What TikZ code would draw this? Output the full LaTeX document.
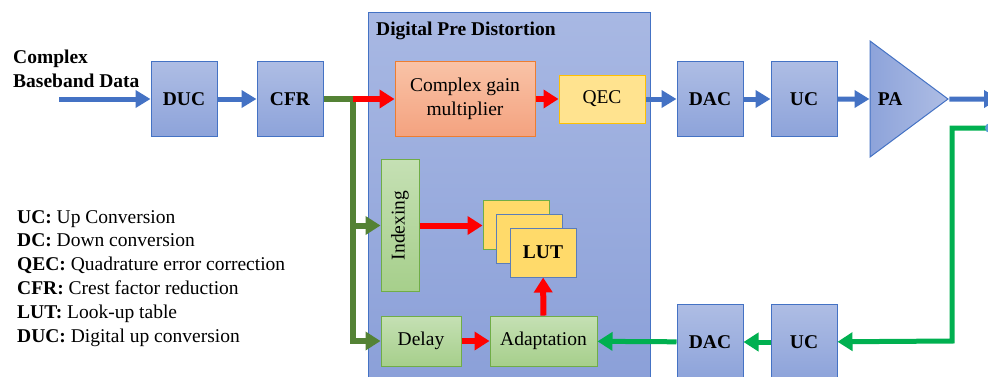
\documentclass[tikz,border=0pt]{standalone}
\usepackage{fontspec}
\setmainfont{Liberation Serif}
\usepackage{tikz}
\usetikzlibrary{shapes.geometric,arrows.meta,positioning,calc}
\definecolor{dpdborder}{HTML}{4472C4}
\definecolor{dpdtop}{HTML}{A8B8E3}
\definecolor{dpdbottom}{HTML}{8A9FD8}
\definecolor{blocktop}{HTML}{AEBDE4}
\definecolor{blockbottom}{HTML}{8DA3DA}
\definecolor{greentop}{HTML}{C5E0B4}
\definecolor{greenbottom}{HTML}{A6CF8B}
\definecolor{greenborder}{HTML}{70AD47}
\definecolor{salmontop}{HTML}{F9C3A7}
\definecolor{salmonbottom}{HTML}{F4A27F}
\definecolor{salmonborder}{HTML}{ED7D31}
\definecolor{qecfill}{HTML}{FFE38F}
\definecolor{qecborder}{HTML}{FFC000}
\definecolor{lutfill}{HTML}{FFDA6A}
\definecolor{lutborder}{HTML}{5B7DB8}
\definecolor{sigred}{HTML}{FF0000}
\definecolor{sigdark}{HTML}{548235}
\definecolor{sigfeed}{HTML}{00B050}
\definecolor{tapblue}{HTML}{5B9BD5}
\tikzset{
  block/.style={rectangle, draw=dpdborder, line width=1pt, top color=blocktop,
                bottom color=blockbottom, font=\bfseries, minimum width=66pt,
                minimum height=75pt, inner sep=0pt},
  dpdframe/.style={rectangle, draw=dpdborder, line width=1pt, top color=dpdtop,
                   bottom color=dpdbottom, minimum width=282pt, minimum height=380pt, inner sep=0pt},
  gblock/.style={rectangle, draw=greenborder, line width=1pt, top color=greentop,
                 bottom color=greenbottom, minimum height=50pt, inner sep=0pt},
  gain/.style={rectangle, draw=salmonborder, line width=1pt, top color=salmontop,
               bottom color=salmonbottom, align=center, minimum width=140pt,
               minimum height=75pt, inner sep=0pt},
  qecbox/.style={rectangle, draw=qecborder, line width=1pt, fill=qecfill,
                 minimum width=86pt, minimum height=48pt, inner sep=0pt},
  lutbox/.style={rectangle, draw=lutborder, line width=1pt, fill=lutfill, font=\bfseries,
                 minimum width=66pt, minimum height=49pt, inner sep=0pt},
  amp/.style={isosceles triangle, isosceles triangle stretches, shape border rotate=0,
              minimum width=116pt, minimum height=78pt, inner sep=0pt, draw=dpdborder,
              line width=1pt, left color=blockbottom, right color=blocktop, font=\bfseries},
  barrow/.style={-{Triangle[length=15pt,width=17pt]}, line width=5pt, draw=dpdborder},
  rarrow/.style={-{Triangle[length=15pt,width=18pt]}, line width=6pt, draw=sigred},
  darrow/.style={-{Triangle[length=15pt,width=18pt]}, line width=6pt, draw=sigdark},
  farrow/.style={-{Triangle[length=15pt,width=18pt]}, line width=5pt, draw=sigfeed},
}
\begin{document}
\fontsize{19.5}{23.8}\selectfont
\begin{tikzpicture}[x=1pt, y=-1pt, node distance=39pt]
\useasboundingbox (0,0) rectangle (988,376);
\clip (0,0) rectangle (988,376);

\node[dpdframe, anchor=north west] (dpd) at (368,12) {};
\node[font=\bfseries, anchor=west, inner sep=0pt] (dpdtitle) at ([xshift=8pt,yshift=-19pt]dpd.north west) {Digital Pre Distortion};

\node[block] (duc) at (184,99) {DUC};
\node[block, right=39pt of duc] (cfr) {CFR};
\node[gain, right=71pt of cfr] (gain) {Complex gain\\multiplier};
\node[qecbox, right=23pt of gain] (qec) {QEC};
\node[block, right=31pt of qec] (dac) {DAC};
\node[block, right=27pt of dac] (uc) {UC};
\node[amp, right=32pt of uc] (pa) {PA\hspace*{24pt}};

\node[block, below=167pt of dac] (dacfb) {DAC};
\node[block, below=167pt of uc] (ucfb) {UC};

\node[gblock, minimum width=38pt, minimum height=132pt] (indexing) at (400,225.5) {\rotatebox{90}{Indexing}};
\node[gblock, minimum width=80pt] (delay) at (421,341) {Delay};
\node[gblock, minimum width=107pt, right=28pt of delay] (adapt) {Adaptation};
\node[lutbox, draw=greenborder] (lut1) at (516,224.5) {};
\node[lutbox] (lut2) at ([shift={(13.5,14)}]lut1) {};
\node[lutbox] (lut3) at ([shift={(13.5,14)}]lut2) {LUT};

\node[anchor=north west, align=left, inner sep=0pt, font=\bfseries] (inlabel) at (13,50) {Complex\\Baseband Data};
\node[anchor=north west, align=left, inner sep=0pt] (legend) at (17,210) {\textbf{UC:} Up Conversion\\
  \textbf{DC:} Down conversion\\
  \textbf{QEC:} Quadrature error correction\\
  \textbf{CFR:} Crest factor reduction\\
  \textbf{LUT:} Look-up table\\
  \textbf{DUC:} Digital up conversion};

\coordinate (src) at (59,99);
\coordinate (split) at ([xshift=29pt]cfr.east);
\coordinate (out) at (999,99);
\coordinate (tap) at (990,128);
\coordinate (turn) at (952,341);

\draw[barrow] (src) -- (duc);
\draw[barrow] (duc) -- (cfr);
\draw[barrow] (qec) -- (dac);
\draw[barrow] (dac) -- (uc);
\draw[barrow] (uc) -- (pa);
\draw[barrow] (pa.apex) -- (out);

\draw[darrow] (cfr.east) -- (split) |- (delay);
\draw[darrow] (split |- indexing.west) -- (indexing.west);
\draw[rarrow] (split) -- (gain);
\draw[rarrow] (gain) -- (qec);
\draw[rarrow] (indexing.east) -- (indexing.east -| lut1.west);
\draw[rarrow] (delay) -- (adapt);
\draw[rarrow] (adapt) -- (lut3);

\draw[farrow] (tap) -| (turn) -- (ucfb);
\draw[farrow] (ucfb) -- (dacfb);
\draw[farrow] (dacfb) -- (adapt);
\fill[tapblue] (tap) circle (5pt);
\end{tikzpicture}
\end{document}
